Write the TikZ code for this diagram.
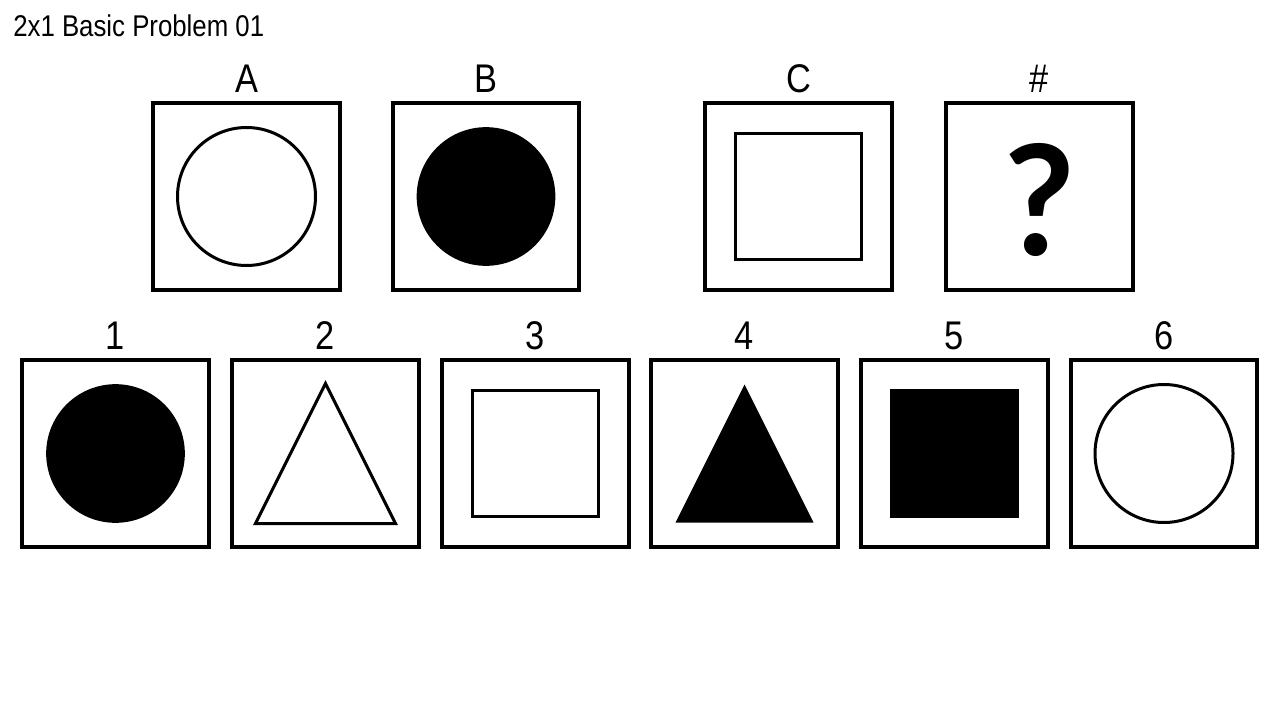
\documentclass[tikz,border=0pt]{standalone}
\usepackage{fontspec}
\setmainfont{Liberation Sans}
\newfontfamily\narrowfont[FakeStretch=0.86]{Liberation Sans}
\newfontfamily\qfont{Lato}
\usetikzlibrary{positioning,calc}

\tikzset{
  panel/.style={draw,line width=3pt,minimum size=140pt,inner sep=0pt},
  tag/.style={font=\narrowfont\fontsize{30}{30}\selectfont,inner sep=0pt},
  figline/.style={line width=2.25pt},
}

\begin{document}
\begin{tikzpicture}[x=0.75pt,y=-0.75pt]
\useasboundingbox (0,0) rectangle (1280,720);
\node[anchor=base west,inner sep=0pt,font=\narrowfont\fontsize{22.5}{22.5}\selectfont] (title) at (13,37) {2x1 Basic Problem 01};
% problem row
\foreach \n/\x/\t in {A/246.5/A,B/486/B,C/798.5/C,Q/1039.5/\#}{
  \node[panel] (\n) at (\x,196.5) {};
  \node[tag,above=6pt of \n] (lab\n) {\t};
}
\draw[figline] (A.center) circle[radius=51.75pt];
\fill (B.center) circle[radius=52pt];
\node[draw,figline,minimum size=95pt,inner sep=0pt] (sqC) at (C.center) {};
\node[anchor=base,inner sep=0pt,font=\qfont\bfseries\fontsize{115}{115}\selectfont] (qmark) at ($(Q.center)+(0,59)$) {?};
% answer row
\foreach \n/\x in {1/115.5,2/325.5,3/535.5,4/744.5,5/954.5,6/1164}{
  \node[panel] (p\n) at (\x,453.5) {};
  \node[tag,above=6pt of p\n] (labp\n) {\n};
}
\fill (p1.center) circle[radius=52pt];
\draw[figline] (p2.center) ++(0,-70) -- ++(70,140) -- ++(-140,0) -- cycle;
\node[draw,figline,minimum size=95pt,inner sep=0pt] (sq3) at (p3.center) {};
\fill (p4.center) ++(0,-69) -- ++(69,138) -- ++(-138,0) -- cycle;
\node[fill,minimum size=97pt,inner sep=0pt] (sq5) at (p5.center) {};
\draw[figline] (p6.center) circle[radius=51.75pt];
\end{tikzpicture}
\end{document}
